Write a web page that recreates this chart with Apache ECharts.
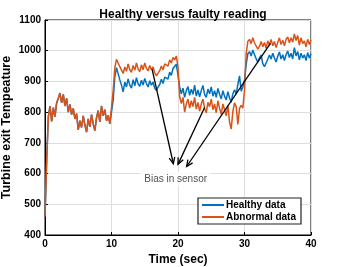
<!DOCTYPE html>
<html><head><meta charset="utf-8">
<script src="https://cdn.jsdelivr.net/npm/echarts@6/dist/echarts.min.js"></script>
<style>html,body{margin:0;padding:0;background:#fff}#c{width:343px;height:267px}</style>
</head><body><div id="c"></div>
<script>
// time step of the samples (sec)
const dt = 0.25;
// t = 0 .. 10 (both sensors identical)
const common = [460,640,785,820,770,815,785,830,845,862,830,858,820,845,800,825,792,812,778,795,742,772,750,788,758,735,778,752,792,762,740,782,805,768,820,788,808,772,790,762,758];
// t = 10.25 .. 40
const healthyAfter = [840,915,945,940,905,888,866,898,882,908,888,878,906,886,912,892,884,904,888,910,893,882,902,888,898,878,870,882,890,907,893,914,918,908,930,920,942,946,956,920,
882,860,878,848,870,883,855,875,858,888,852,872,850,870,887,858,848,875,860,882,852,870,848,877,858,843,870,852,840,867,846,832,860,873,858,890,918,868,882,905,
955,990,997,983,1002,988,974,963,977,986,958,948,944,972,986,973,992,976,963,982,996,973,987,968,987,999,978,992,973,1010,983,997,970,992,976,987,968,994,976,990];
const abnormalAfter = [870,945,972,978,948,942,926,947,933,957,938,930,952,936,960,940,932,954,938,960,943,934,952,938,947,928,918,927,935,950,938,957,962,950,970,960,978,970,983,945,
850,828,848,800,827,842,813,837,818,848,810,832,803,827,842,813,798,832,818,842,808,827,798,837,813,793,827,808,788,822,768,745,802,830,818,760,812,822,813,870,
990,1030,1037,1023,1042,1026,1020,1005,1014,1030,1013,1027,1008,1032,1018,1037,1016,1030,1010,1027,1042,1020,1034,1016,1037,1045,1026,1042,1028,1055,1033,1050,1018,1042,1023,1032,1013,1037,1020,1035];
// annotation arrows: [fromX, fromY, toX, toY]
const arrows = [[16.1,940,19.3,632],[24.0,815,20.0,630],[33.9,1024,21.3,623]];
const noteText = 'Bias in sensor';
const notePos = [19.65, 582];
const xTicks = [0,40,10];
const yTicks = [400,1100,100];

const healthy = common.concat(healthyAfter).map((v,i)=>[i*dt,v]);
const abnormal = common.concat(abnormalAfter).map((v,i)=>[i*dt,v]);

const FONT = '"Liberation Sans", Arial, sans-serif';
const chart = echarts.init(document.getElementById('c'), null, {renderer:'canvas'});
chart.setOption({
  animation:false,
  title:{text:'Healthy versus faulty reading', left:178, textAlign:'center', top:4,
    textStyle:{fontFamily:FONT,fontSize:12,fontWeight:'bold',color:'#000'}},
  grid:{left:45,right:32,top:20,bottom:32,show:true,borderColor:'#000',borderWidth:1,
    backgroundColor:'transparent',containLabel:false,outerBoundsMode:'none'},
  legend:{orient:'vertical',right:42,top:198,padding:[2,5,2,4],itemGap:2,
    backgroundColor:'#fff',borderColor:'#222',borderWidth:1.2,
    itemWidth:22,itemHeight:2,icon:'rect',
    textStyle:{fontFamily:FONT,fontSize:10,lineHeight:10,fontWeight:'bold',color:'#000',padding:[0,0,0,-3]},
    data:['Healthy data','Abnormal data']},
  xAxis:{type:'value',min:xTicks[0],max:xTicks[1],interval:xTicks[2],
    name:'Time (sec)',nameLocation:'middle',nameGap:19,nameMoveOverlap:false,
    nameTextStyle:{fontFamily:FONT,fontSize:12,fontWeight:'bold',color:'#000'},
    axisLine:{lineStyle:{color:'#000'}},
    axisTick:{inside:true,length:3,lineStyle:{color:'#000'}},
    axisLabel:{fontFamily:FONT,fontSize:10,fontWeight:'bold',color:'#000',margin:4,formatter:v=>String(v)},
    splitLine:{lineStyle:{color:'#dedede',width:1}}},
  yAxis:{type:'value',min:yTicks[0],max:yTicks[1],interval:yTicks[2],
    name:'Turbine exit Tempeature',nameLocation:'middle',nameGap:32,nameMoveOverlap:false,
    nameTextStyle:{fontFamily:FONT,fontSize:12.5,fontWeight:'bold',color:'#000'},
    axisLine:{lineStyle:{color:'#000'}},
    axisTick:{inside:true,length:3,lineStyle:{color:'#000'}},
    axisLabel:{fontFamily:FONT,fontSize:10,fontWeight:'bold',color:'#000',margin:4,formatter:v=>String(v)},
    splitLine:{lineStyle:{color:'#dedede',width:1}}},
  series:[
    {name:'Healthy data',type:'line',data:healthy,showSymbol:false,symbol:'none',
      lineStyle:{color:'#0072BD',width:1.5},itemStyle:{color:'#0072BD'},z:2},
    {name:'Abnormal data',type:'line',data:abnormal,showSymbol:false,symbol:'none',
      lineStyle:{color:'#D95319',width:1.5},itemStyle:{color:'#D95319'},z:3},
    {type:'custom',data:arrows,z:5,silent:true,
      renderItem:function(params,api){
        const a=api.coord([api.value(0),api.value(1)]);
        const b=api.coord([api.value(2),api.value(3)]);
        const ang=Math.atan2(b[1]-a[1],b[0]-a[0]);
        const L=7, w=0.42;
        const p1=[b[0]-L*Math.cos(ang-w),b[1]-L*Math.sin(ang-w)];
        const p2=[b[0]-L*Math.cos(ang+w),b[1]-L*Math.sin(ang+w)];
        const st={stroke:'#000',lineWidth:1.3,fill:null};
        return {type:'group',children:[
          {type:'line',shape:{x1:a[0],y1:a[1],x2:b[0],y2:b[1]},style:st},
          {type:'polyline',shape:{points:[p1,b,p2]},style:st}
        ]};
      }},
    {type:'scatter',data:[notePos],symbolSize:0,z:6,silent:true,
      label:{show:true,position:'inside',formatter:noteText,fontFamily:FONT,fontSize:10,
        color:'#222',backgroundColor:'#fff',padding:[2,4]}}
  ]
});
</script></body></html>
